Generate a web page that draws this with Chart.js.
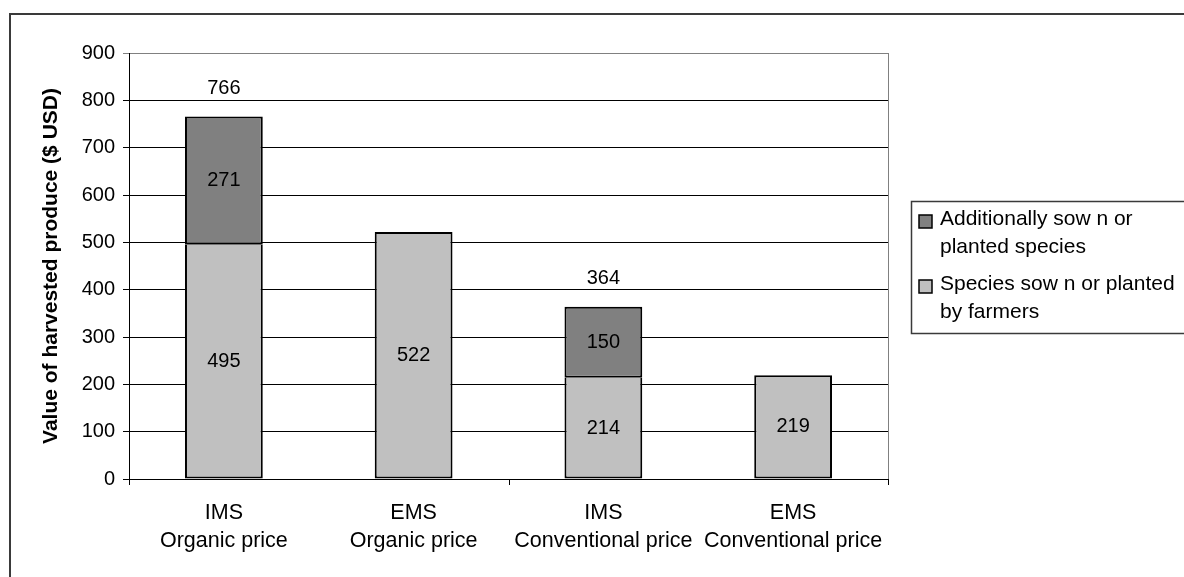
<!DOCTYPE html>
<html>
<head>
<meta charset="utf-8">
<script src="https://cdn.jsdelivr.net/npm/chart.js@4.4.1/dist/chart.umd.min.js"></script>
<style>
  html, body { margin: 0; padding: 0; background: #ffffff; }
  #wrap { position: relative; width: 1184px; height: 577px; }
</style>
</head>
<body>
<div id="wrap"><canvas id="chart" width="1184" height="577"></canvas></div>
<script>
// Categories (two-line axis labels)
const categories = [
  ['IMS', 'Organic price'],
  ['EMS', 'Organic price'],
  ['IMS', 'Conventional price'],
  ['EMS', 'Conventional price']
];

// Series values ($ USD)
const sownByFarmers = [495, 522, 214, 219];
const additionallySown = [271, null, 150, null];

// Legend text, one entry per line
const labelFarmers = ['Species sow n or planted', 'by farmers'];
const labelAdditional = ['Additionally sow n or', 'planted species'];

// Value axis
const yMin = 0;
const yMax = 900;
const yStep = 100;

const FONT = '"Liberation Sans", Arial, Helvetica, sans-serif';

// Outer frame, plot border, x-axis tick marks, value labels and legend
const decorations = {
  id: 'decorations',
  beforeDraw(chart) {
    const ctx = chart.ctx;
    ctx.save();
    ctx.fillStyle = '#ffffff';
    ctx.fillRect(0, 0, chart.width, chart.height);
    ctx.strokeStyle = '#3a3a3a';
    ctx.lineWidth = 2;
    ctx.strokeRect(10, 14, chart.width + 20, chart.height + 20);
    ctx.restore();
  },
  afterDraw(chart) {
    const ctx = chart.ctx;
    const area = chart.chartArea;
    const xs = chart.scales.x;
    ctx.save();

    // right edge of the plot area
    ctx.strokeStyle = '#808080';
    ctx.lineWidth = 1;
    ctx.beginPath();
    ctx.moveTo(Math.round(area.right) + 0.5, area.top);
    ctx.lineTo(Math.round(area.right) + 0.5, area.bottom);
    ctx.stroke();

    // category-axis tick marks, every second boundary
    const half = (xs.getPixelForValue(1) - xs.getPixelForValue(0)) / 2;
    ctx.strokeStyle = '#000000';
    for (let i = 0; i <= categories.length; i += 2) {
      const px = Math.round(xs.getPixelForValue(i) - half) + 0.5;
      ctx.beginPath();
      ctx.moveTo(px, area.bottom);
      ctx.lineTo(px, area.bottom + 6);
      ctx.stroke();
    }
    ctx.beginPath();
    ctx.moveTo(area.left, Math.round(area.bottom) + 0.5);
    ctx.lineTo(area.right, Math.round(area.bottom) + 0.5);
    ctx.stroke();

    // value labels
    ctx.fillStyle = '#000000';
    ctx.font = '20px ' + FONT;
    ctx.textAlign = 'center';
    ctx.textBaseline = 'middle';
    const m0 = chart.getDatasetMeta(0);
    const m1 = chart.getDatasetMeta(1);
    sownByFarmers.forEach((v, i) => {
      const el = m0.data[i];
      ctx.fillText(String(v), el.x, (el.y + el.base) / 2);
    });
    additionallySown.forEach((v, i) => {
      if (v === null) return;
      const el = m1.data[i];
      ctx.fillText(String(v), el.x, (el.y + el.base) / 2);
      ctx.fillText(String(sownByFarmers[i] + v), el.x, el.y - 28);
    });

    // legend box
    const lx = area.right + 23;
    const ly = 201;
    ctx.strokeStyle = '#3a3a3a';
    ctx.lineWidth = 1.5;
    ctx.strokeRect(lx + 0.5, ly + 0.5, 400, 132);
    const entries = [
      { ds: chart.data.datasets[1], lines: labelAdditional, y: ly + 21 },
      { ds: chart.data.datasets[0], lines: labelFarmers, y: ly + 86 }
    ];
    ctx.textAlign = 'left';
    ctx.font = '21px ' + FONT;
    entries.forEach(e => {
      ctx.fillStyle = e.ds.backgroundColor;
      ctx.fillRect(lx + 8, e.y - 7, 13, 13);
      ctx.strokeStyle = '#000000';
      ctx.lineWidth = 1.5;
      ctx.strokeRect(lx + 8, e.y - 7, 13, 13);
      ctx.fillStyle = '#000000';
      e.lines.forEach((t, k) => ctx.fillText(t, lx + 29, e.y - 3 + k * 28));
    });
    ctx.restore();
  }
};

new Chart(document.getElementById('chart'), {
  type: 'bar',
  data: {
    labels: categories,
    datasets: [
      {
        label: labelFarmers.join(' '),
        data: sownByFarmers,
        backgroundColor: '#c0c0c0',
        borderColor: '#000000',
        // the top edge is shared with the segment stacked above, if any
        borderWidth: c => ({
          top: additionallySown[c.dataIndex] === null ? 2 : 0,
          left: 2, right: 2, bottom: 2
        }),
        borderSkipped: false
      },
      {
        label: labelAdditional.join(' '),
        data: additionallySown,
        backgroundColor: '#808080',
        borderColor: '#000000',
        borderWidth: 2,
        borderSkipped: false
      }
    ]
  },
  options: {
    responsive: false,
    animation: false,
    events: [],
    layout: { padding: { left: 0, top: 53, right: 296, bottom: 0 } },
    datasets: { bar: { categoryPercentage: 1, barPercentage: 0.41 } },
    plugins: {
      legend: { display: false },
      tooltip: { enabled: false },
      title: { display: false }
    },
    scales: {
      x: {
        stacked: true,
        grid: { display: false },
        border: { display: false },
        ticks: {
          color: '#000000',
          padding: 12,
          maxRotation: 0,
          autoSkip: false,
          font: { family: FONT, size: 21.5, lineHeight: 1.3 }
        },
        afterFit(scale) { scale.height = 98; }
      },
      y: {
        stacked: true,
        min: yMin,
        max: yMax,
        ticks: {
          stepSize: yStep,
          color: '#000000',
          padding: 8,
          font: { family: FONT, size: 20 }
        },
        grid: {
          color: c => (c.tick && c.tick.value === yMax ? '#808080' : '#000000'),
          tickColor: c => (c.tick && c.tick.value === yMax ? '#808080' : '#000000'),
          tickLength: 6,
          lineWidth: 1
        },
        border: { color: '#000000', width: 1 },
        title: {
          display: true,
          text: 'Value of harvested produce ($ USD)',
          color: '#000000',
          padding: { top: 39, bottom: 0 },
          font: { family: FONT, size: 21, weight: 'bold' }
        },
        afterFit(scale) { scale.width = 129; }
      }
    }
  },
  plugins: [decorations]
});
</script>
</body>
</html>
